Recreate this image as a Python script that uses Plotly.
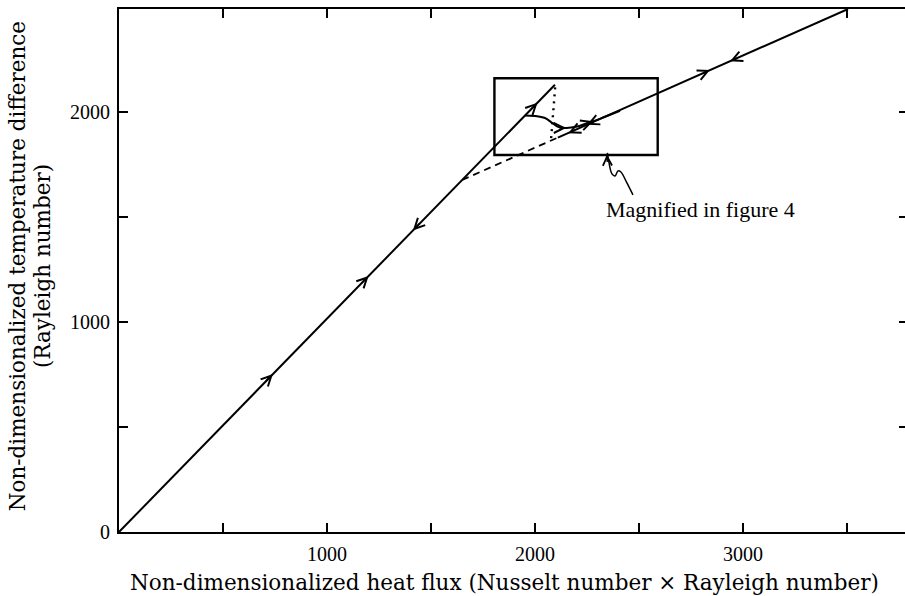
import plotly.graph_objects as go

# Main branch: conduction line from the origin up to its turning point
branch_a_x = [0, 2096]
branch_a_y = [0, 2129]

# Second branch: dashed continuation from the kink, then solid
branch_b_dash_x = [1650, 2110]
branch_b_dash_y = [1676, 1878]
branch_b_x = [2110, 3505]
branch_b_y = [1878, 2490]

# Dotted connector between the two branches
dotted_x = [2097, 2077]
dotted_y = [2117, 1866]

# Transition curve leaving branch A and joining branch B
curve_x = [1952, 2000, 2048, 2082, 2111, 2149, 2197, 2255, 2312, 2370, 2409]
curve_y = [1983, 1981, 1971, 1948, 1929, 1924, 1929, 1948, 1967, 1990, 2005]

# Magnified region
box_x = [1805, 2590]
box_y = [1795, 2160]

# Wavy pointer to the magnified region
squiggle_x = [2471, 2442, 2413, 2399, 2385, 2370, 2356, 2348]
squiggle_y = [1605, 1662, 1714, 1719, 1695, 1705, 1757, 1805]

# Flow-direction arrows: (x, y, dx, dy) with (dx, dy) pointing along the flow
arrows = [
    (740, 752, 1, 1.016),
    (1200, 1219, 1, 1.016),
    (1413, 1436, -1, -1.016),
    (2012, 2044, 1, 1.016),
    (2841, 2199, 1, 0.4386),
    (2938, 2241, -1, -0.4386),
    (2160, 1899, -1, -0.4386),
    (2250, 1939, -1, -0.4386),
    (2150, 1924, 1, 0.0),
    (2280, 1956, 1, 0.35),
]

x_ticks = [500, 1000, 1500, 2000, 2500, 3000, 3500]
x_tick_text = ["", "1000", "", "2000", "", "3000", ""]
y_ticks = [0, 500, 1000, 1500, 2000]
y_tick_text = ["0", "", "1000", "", "2000"]

X_MAX = 3779
Y_MAX = 2490

line_style = dict(color="black", width=2)

fig = go.Figure()

fig.add_trace(go.Scatter(x=branch_a_x, y=branch_a_y, mode="lines", line=line_style))
fig.add_trace(go.Scatter(x=branch_b_dash_x, y=branch_b_dash_y, mode="lines",
                         line=dict(color="black", width=1.8, dash="7px,5px")))
fig.add_trace(go.Scatter(x=branch_b_x, y=branch_b_y, mode="lines", line=line_style))
fig.add_trace(go.Scatter(x=dotted_x, y=dotted_y, mode="lines",
                         line=dict(color="black", width=2.4, dash="2px,5px")))
fig.add_trace(go.Scatter(x=curve_x, y=curve_y, mode="lines",
                         line=dict(color="black", width=2, shape="spline")))
fig.add_trace(go.Scatter(x=squiggle_x, y=squiggle_y, mode="lines",
                         line=dict(color="black", width=1.5, shape="spline")))

fig.add_shape(type="rect", x0=box_x[0], x1=box_x[1], y0=box_y[0], y1=box_y[1],
              line=dict(color="black", width=2.4))

# Arrowheads drawn as short annotation arrows lying on the curves
for ax_, ay_, dx, dy in arrows:
    s = 40.0
    fig.add_annotation(x=ax_, y=ay_, ax=ax_ - dx * s, ay=ay_ - dy * s,
                       xref="x", yref="y", axref="x", ayref="y",
                       text="", showarrow=True, arrowhead=5, arrowsize=1.25,
                       arrowwidth=1.6, arrowcolor="black")

# Pointer arrowhead at the bottom of the box
fig.add_annotation(x=squiggle_x[-1] - 2, y=box_y[0] + 2, ax=squiggle_x[-1], ay=box_y[0] - 40,
                   xref="x", yref="y", axref="x", ayref="y",
                   text="", showarrow=True, arrowhead=5, arrowsize=1.2,
                   arrowwidth=1.5, arrowcolor="black")

fig.add_annotation(x=2330, y=1535, xref="x", yref="y", text="Magnified in figure 4",
                   showarrow=False, xanchor="left", yanchor="middle",
                   font=dict(family="Liberation Serif", size=22, color="black"))

title_font = dict(family="DejaVu Serif", size=21.5, color="black")
fig.add_annotation(x=0.491, y=-0.096, xref="paper", yref="paper",
                   text="Non-dimensionalized heat flux (Nusselt number \u00d7 Rayleigh number)",
                   showarrow=False, xanchor="center", yanchor="middle", font=title_font)
fig.add_annotation(x=-0.1298, y=0.508, xref="paper", yref="paper",
                   text="Non-dimensionalized temperature difference",
                   showarrow=False, textangle=-90, xanchor="center", yanchor="middle",
                   font=title_font)
fig.add_annotation(x=-0.097, y=0.508, xref="paper", yref="paper",
                   text="(Rayleigh number)",
                   showarrow=False, textangle=-90, xanchor="center", yanchor="middle",
                   font=title_font)

tick_font = dict(family="Liberation Serif", size=20, color="black")
fig.update_layout(
    width=905, height=596,
    margin=dict(l=119, r=0, t=9, b=64),
    paper_bgcolor="white", plot_bgcolor="white",
    showlegend=False,
    xaxis=dict(range=[0, X_MAX], tickvals=x_ticks, ticktext=x_tick_text,
               ticks="inside", ticklen=9, tickwidth=1.6, tickcolor="black",
               showline=True, linecolor="black", linewidth=2, mirror="ticks",
               showgrid=False, zeroline=False, tickfont=tick_font,
               ticklabelstandoff=3),
    yaxis=dict(range=[0, Y_MAX], tickvals=y_ticks, ticktext=y_tick_text,
               ticks="inside", ticklen=9, tickwidth=1.6, tickcolor="black",
               showline=True, linecolor="black", linewidth=2,
               showgrid=False, zeroline=False, tickfont=tick_font,
               ticklabelstandoff=3),
    yaxis2=dict(range=[0, Y_MAX], overlaying="y", side="right", tickvals=y_ticks,
                ticks="inside", ticklen=6, tickwidth=1.6, tickcolor="black",
                showticklabels=False, showline=False, showgrid=False, zeroline=False),
)

# Invisible trace to bring the right-hand tick axis into the layout
fig.add_trace(go.Scatter(x=[0], y=[0], yaxis="y2", mode="markers",
                         marker=dict(opacity=0), hoverinfo="skip"))

fig.write_html("out.html")
